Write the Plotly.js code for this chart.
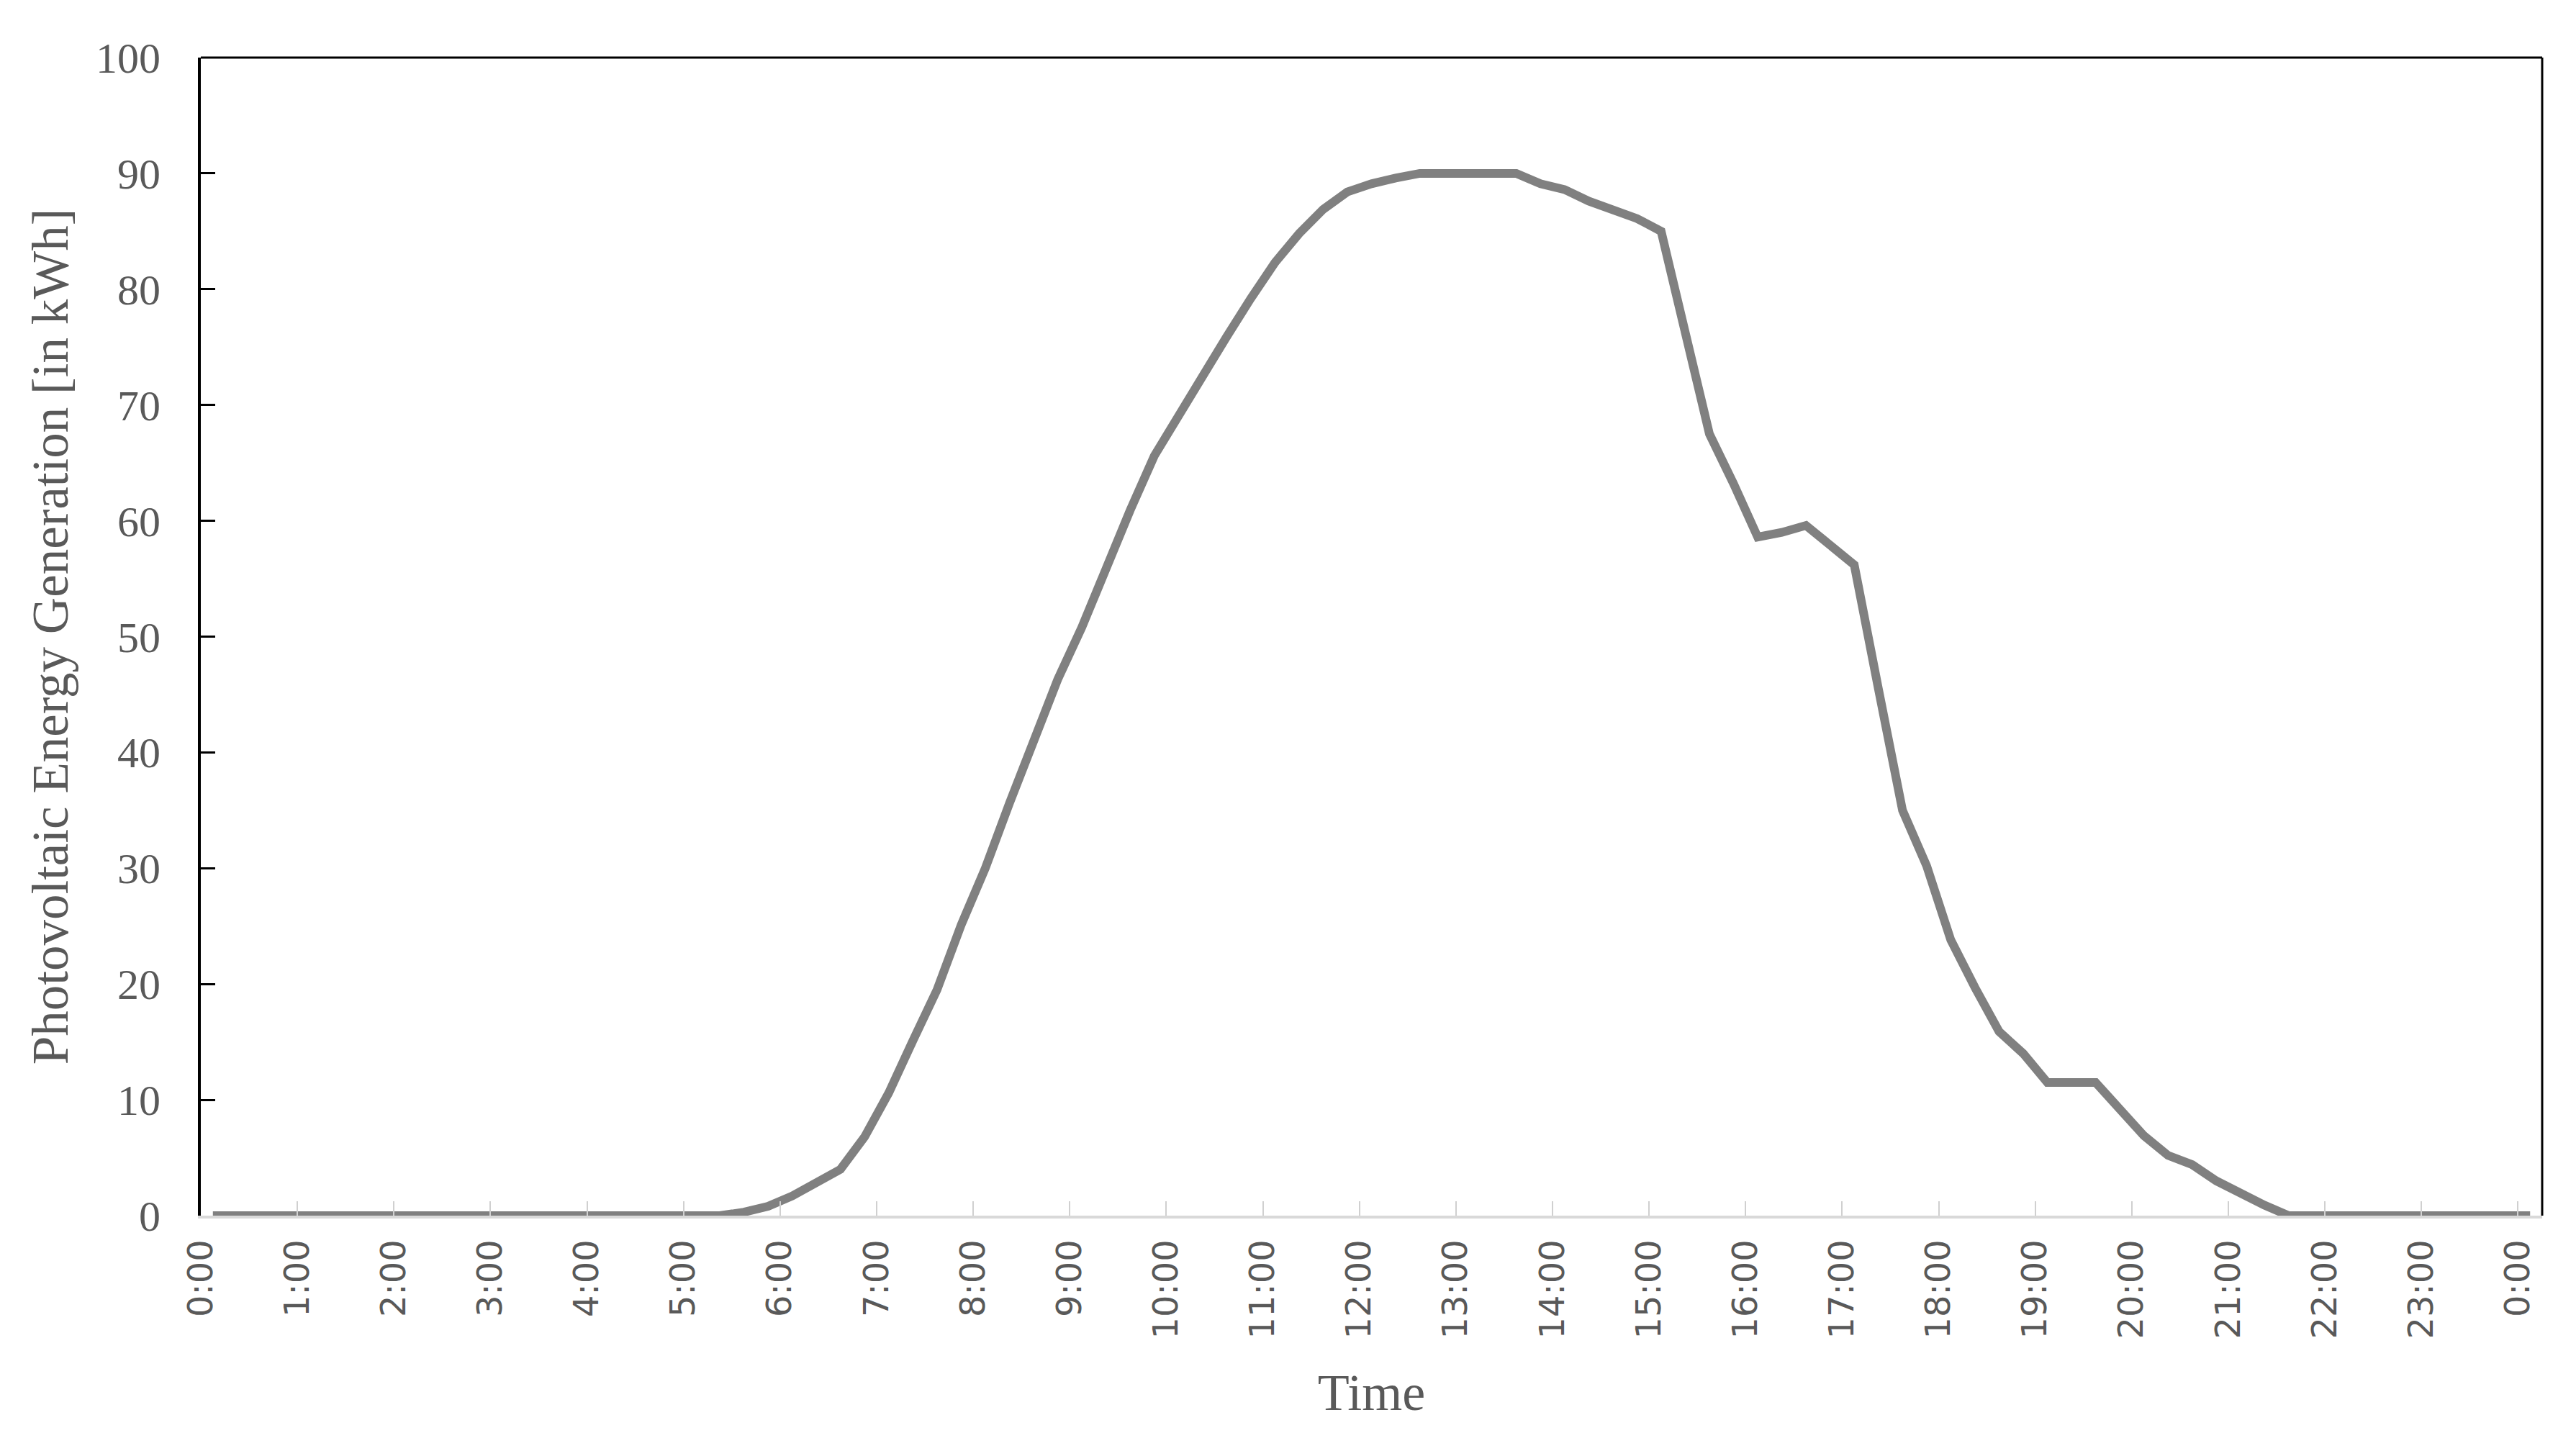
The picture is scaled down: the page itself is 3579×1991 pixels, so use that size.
<!DOCTYPE html>
<html>
<head>
<meta charset="utf-8">
<script src="https://cdn.plot.ly/plotly-3.0.1.min.js"></script>
<style>
  html, body { margin: 0; padding: 0; background: #ffffff; }
  #chart { width: 3579px; height: 1991px; }
</style>
</head>
<body>
<div id="chart"></div>
<script>
// 15-minute time categories (0:00 to 0:00 next day)
const times = [
  "0:00","0:15","0:30","0:45","1:00","1:15","1:30","1:45",
  "2:00","2:15","2:30","2:45","3:00","3:15","3:30","3:45",
  "4:00","4:15","4:30","4:45","5:00","5:15","5:30","5:45",
  "6:00","6:15","6:30","6:45","7:00","7:15","7:30","7:45",
  "8:00","8:15","8:30","8:45","9:00","9:15","9:30","9:45",
  "10:00","10:15","10:30","10:45","11:00","11:15","11:30","11:45",
  "12:00","12:15","12:30","12:45","13:00","13:15","13:30","13:45",
  "14:00","14:15","14:30","14:45","15:00","15:15","15:30","15:45",
  "16:00","16:15","16:30","16:45","17:00","17:15","17:30","17:45",
  "18:00","18:15","18:30","18:45","19:00","19:15","19:30","19:45",
  "20:00","20:15","20:30","20:45","21:00","21:15","21:30","21:45",
  "22:00","22:15","22:30","22:45","23:00","23:15","23:30","23:45",
  "0:00"
];

// Photovoltaic energy generation [kWh]
const pvGeneration = [
  0, 0, 0, 0, 0, 0, 0, 0,
  0, 0, 0, 0, 0, 0, 0, 0,
  0, 0, 0, 0, 0, 0, 0.3, 0.8,
  1.7, 2.8, 4.0, 6.8, 10.6, 15.1, 19.5, 25.1,
  30.0, 35.6, 41.2, 46.3, 50.8, 55.9, 60.9, 65.6,
  69.1, 72.3, 75.9, 79.2, 82.3, 84.8, 86.9, 88.4,
  89.1, 89.6, 90, 90, 90, 90, 90, 89.1,
  88.6, 87.6, 86.9, 86.1, 85.0, 76.0, 67.5, 63.2,
  58.6, 59.0, 59.6, 57.9, 56.2, 45.5, 35.0, 30.2,
  23.8, 19.7, 15.9, 14.0, 11.5, 11.5, 11.5, 9.2,
  6.9, 5.2, 4.4, 3.0, 1.9, 0.9, 0, 0,
  0, 0, 0, 0, 0, 0, 0, 0,
  0
];

// Axis tick labels (one every hour)
const tickLabels = [
  "0:00","1:00","2:00","3:00","4:00","5:00","6:00","7:00","8:00",
  "9:00","10:00","11:00","12:00","13:00","14:00","15:00","16:00",
  "17:00","18:00","19:00","20:00","21:00","22:00","23:00","0:00"
];
const yTicks = [0, 10, 20, 30, 40, 50, 60, 70, 80, 90, 100];

const xTitle = "Time";
const yTitle = "Photovoltaic Energy Generation [in kWh]";

// category positions (Excel-like "between tick marks" category axis)
const labelEvery = 4;
const xPos = times.map((t, i) => i);
const tickPos = tickLabels.map((t, k) => k * labelEvery - 0.5);

const serif = "'Liberation Serif', 'DejaVu Serif', serif";
const sans = "'DejaVu Sans', 'Liberation Sans', sans-serif";

const trace = {
  x: xPos,
  y: pvGeneration,
  text: times,
  type: "scatter",
  mode: "lines",
  line: { color: "#808080", width: 12 },
  hoverinfo: "text+y",
  showlegend: false
};

const layout = {
  width: 3579,
  height: 1991,
  paper_bgcolor: "#ffffff",
  plot_bgcolor: "#ffffff",
  margin: { l: 279, r: 47, t: 80, b: 302 },
  showlegend: false,
  xaxis: {
    range: [-0.5, times.length - 0.5],
    tickmode: "array",
    tickvals: tickPos,
    ticktext: tickLabels,
    tickangle: -90,
    ticks: "inside",
    ticklen: 20,
    tickwidth: 2,
    tickcolor: "#d0d0d0",
    showline: true,
    linecolor: "#d9d9d9",
    linewidth: 4,
    showgrid: false,
    zeroline: false,
    tickfont: { family: sans, size: 48, color: "#595959" },
    ticklabelstandoff: 10,
    title: {
      text: xTitle,
      font: { family: serif, size: 72, color: "#595959" },
      standoff: 50
    }
  },
  yaxis: {
    range: [0, 100],
    tickmode: "array",
    tickvals: yTicks,
    ticktext: yTicks.map(String),
    ticks: "inside",
    ticklen: 20,
    tickwidth: 3,
    tickcolor: "#000000",
    showline: true,
    linecolor: "#000000",
    linewidth: 4,
    showgrid: false,
    zeroline: false,
    tickfont: { family: serif, size: 60, color: "#595959" },
    ticklabelstandoff: 40,
    title: {
      text: yTitle,
      font: { family: serif, size: 71, color: "#595959" },
      standoff: 16
    }
  },
  shapes: [
    { type: "line", xref: "paper", yref: "paper", x0: 0, x1: 1, y0: 1, y1: 1,
      line: { color: "#000000", width: 3 } },
    { type: "line", xref: "paper", yref: "paper", x0: 1, x1: 1, y0: 0, y1: 1,
      line: { color: "#000000", width: 3 } }
  ]
};

Plotly.newPlot("chart", [trace], layout, { displayModeBar: false, responsive: false, staticPlot: true });
</script>
</body>
</html>
